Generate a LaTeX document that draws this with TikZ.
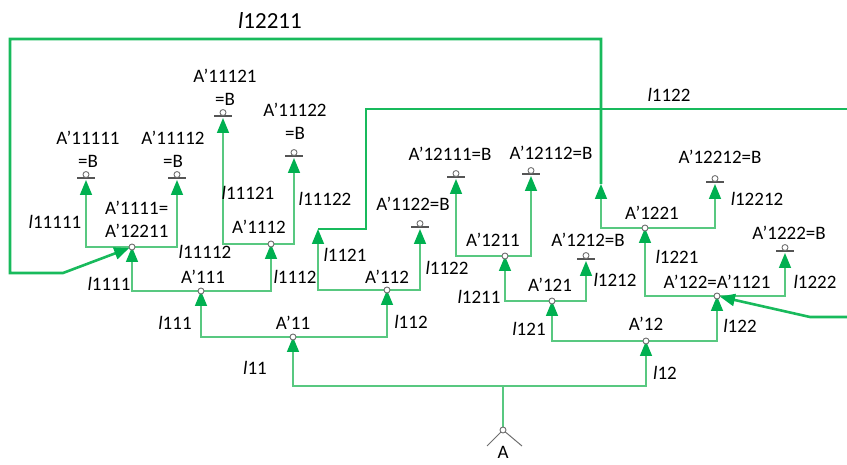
\documentclass[tikz,border=0pt]{standalone}
\usepackage{fontspec}
\setmainfont{Carlito}
\usetikzlibrary{arrows.meta}

\definecolor{thingreen}{RGB}{88,200,128}
\definecolor{fbgreen}{RGB}{24,186,92}
\definecolor{headgreen}{RGB}{0,176,80}
\definecolor{dotgray}{RGB}{110,110,110}
\definecolor{bargray}{RGB}{85,85,85}

% italic l followed by an upright index
\newcommand\brl[1]{\textit{l}#1}

\tikzset{
  trunk/.style={draw=thingreen, line width=1.6pt},
  br/.style={trunk, -{Triangle[width=12pt,length=15pt,color=headgreen]}},
  fb/.style={draw=fbgreen, line width=2.6pt},
  fbarrow/.style={fb, -{Triangle[width=12pt,length=15pt,color=headgreen]}},
  dot/.style={circle, draw=dotgray, fill=white, line width=0.9pt, inner sep=0pt, minimum size=6pt},
  barline/.style={draw=bargray, line width=1.6pt},
  lbl/.style={font=\fontsize{19}{23}\selectfont, inner sep=0pt, align=center},
}

% terminal point: bar centre named #1, small circle sitting on the bar
\newcommand\leafmark[3]{%
  \coordinate (#1) at (#2,#3);
  \draw[barline] ([xshift=-9pt]#1) -- ([xshift=9pt]#1);
  \node[dot, anchor=south] (#1d) at (#1) {};
}

\begin{document}
\begin{tikzpicture}[x=1pt, y=-1pt]
\useasboundingbox (0,0) rectangle (847,465);

% ---- branching points
\coordinate (Aj) at (503,386);
\coordinate (A11) at (293,337);
\coordinate (A12) at (646,341);
\coordinate (A111) at (201,291);
\coordinate (A112) at (387,290);
\coordinate (A121) at (552,301);
\coordinate (A122) at (717,296);
\coordinate (A1111) at (132,247);
\coordinate (A1112) at (271,244);
\coordinate (A1211) at (505,256);
\coordinate (A1221) at (645,228);
\coordinate (t1121) at (318,229);
\coordinate (t12211) at (601,184);
\coordinate (e1) at (847,109);
\coordinate (e2) at (847,317);

% ---- root symbol
\draw[dotgray, line width=1pt] (487,446) -- (503,430) -- (522,446);
\draw[trunk] (503,430) -- (Aj);
\node[dot] (A) at (503,430) {};

% ---- tree branches
\draw[br] (Aj) -| (A11);
\draw[br] (Aj) -| (A12);
\draw[br] (A11) -| (A111);
\draw[br] (A11) -| (A112);
\draw[br] (A12) -| (A121);
\draw[br] (A12) -| (A122);
\draw[br] (A111) -| (A1111);
\draw[br] (A111) -| (A1112);
\draw[br] (A112) -| (t1121);
\draw[br] (A121) -| (A1211);
\draw[br] (A122) -| (A1221);
\draw[br] (A1221) -| (t12211);

% ---- terminal points
\leafmark{L11111}{86}{178}
\leafmark{L11112}{177}{178}
\leafmark{L11121}{223}{116}
\leafmark{L11122}{294}{156}
\leafmark{L1122}{420}{227}
\leafmark{L12111}{456}{177}
\leafmark{L12112}{531}{174}
\leafmark{L1212}{586}{259}
\leafmark{L12212}{715}{182}
\leafmark{L1222}{785}{251}

\draw[br, shorten >=2pt] (A1111) -| (L11111);
\draw[br, shorten >=2pt] (A1111) -| (L11112);
\draw[br, shorten >=2pt] (A1112) -| (L11121);
\draw[br, shorten >=2pt] (A1112) -| (L11122);
\draw[br, shorten >=2pt] (A112) -| (L1122);
\draw[br, shorten >=2pt] (A1211) -| (L12111);
\draw[br, shorten >=2pt] (A1211) -| (L12112);
\draw[br, shorten >=2pt] (A121) -| (L1212);
\draw[br, shorten >=2pt] (A1221) -| (L12212);
\draw[br, shorten >=2pt] (A122) -| (L1222);

% ---- loops back into the tree
\draw[fb] (t1121) -- (366,229) -- (366,109) -- (e1);
\draw[fbarrow, shorten >=3pt] (e2) -- (810,317) -- (A122);
\draw[fbarrow, shorten >=3pt] (t12211) -- (601,39) -- (10,39) -- (10,273) -- (63,273) -- (A1111);

% ---- node circles on top of the lines
\foreach \n in {A11,A12,A111,A112,A121,A122,A1111,A1112,A1211,A1221}
  \node[dot] (\n d) at (\n) {};

% ---- state labels
\node[lbl] (tA11111) at (88,149) {A’11111\\=B};
\node[lbl] (tA11112) at (173,149) {A’11112\\=B};
\node[lbl] (tA11121) at (225,87) {A’11121\\=B};
\node[lbl] (tA11122) at (295,121) {A’11122\\=B};
\node[lbl, align=left, anchor=west] (tA1111) at (105,219) {A’1111=\\A’12211};
\node[lbl] (tA1112) at (259,227) {A’1112};
\node[lbl] (tA111) at (203,277) {A’111};
\node[lbl] (tA112) at (387,277) {A’112};
\node[lbl] (tA11) at (293,323) {A’11};
\node[lbl] (tA12) at (646,324) {A’12};
\node[lbl] (tA121) at (550,285) {A’121};
\node[lbl] (tA1211) at (493,240) {A’1211};
\node[lbl] (tA12111) at (450,154) {A’12111=B};
\node[lbl] (tA12112) at (551,153) {A’12112=B};
\node[lbl] (tA1212) at (588,240) {A’1212=B};
\node[lbl] (tA1122) at (413,204) {A’1122=B};
\node[lbl] (tA122) at (717,282) {A’122=A’1121};
\node[lbl] (tA1221) at (652,213) {A’1221};
\node[lbl] (tA12212) at (720,157) {A’12212=B};
\node[lbl] (tA1222) at (789,233) {A’1222=B};
\node[lbl] (tA) at (503,452) {A};

% ---- branch labels
\node[lbl, font=\fontsize{23}{26}\selectfont] (b12211) at (270,21) {\brl{12211}};
\node[lbl] (b1122t) at (669,95) {\brl{1122}};
\node[lbl] (b11111) at (55,222) {\brl{11111}};
\node[lbl] (b1111) at (109,284) {\brl{1111}};
\node[lbl] (b111) at (175,323) {\brl{111}};
\node[lbl] (b11) at (255,368) {\brl{11}};
\node[lbl] (b112) at (411,322) {\brl{112}};
\node[lbl] (b1112) at (295,277) {\brl{1112}};
\node[lbl] (b11112) at (205,252) {\brl{11112}};
\node[lbl] (b11121) at (248,193) {\brl{11121}};
\node[lbl] (b11122) at (325,199) {\brl{11122}};
\node[lbl] (b1121) at (345,255) {\brl{1121}};
\node[lbl] (b1122) at (447,268) {\brl{1122}};
\node[lbl] (b1211) at (479,297) {\brl{1211}};
\node[lbl] (b1212) at (615,280) {\brl{1212}};
\node[lbl] (b121) at (529,329) {\brl{121}};
\node[lbl] (b122) at (740,326) {\brl{122}};
\node[lbl] (b12) at (665,373) {\brl{12}};
\node[lbl] (b1221) at (677,257) {\brl{1221}};
\node[lbl] (b1222) at (815,282) {\brl{1222}};
\node[lbl] (b12212) at (757,199) {\brl{12212}};
\end{tikzpicture}
\end{document}
